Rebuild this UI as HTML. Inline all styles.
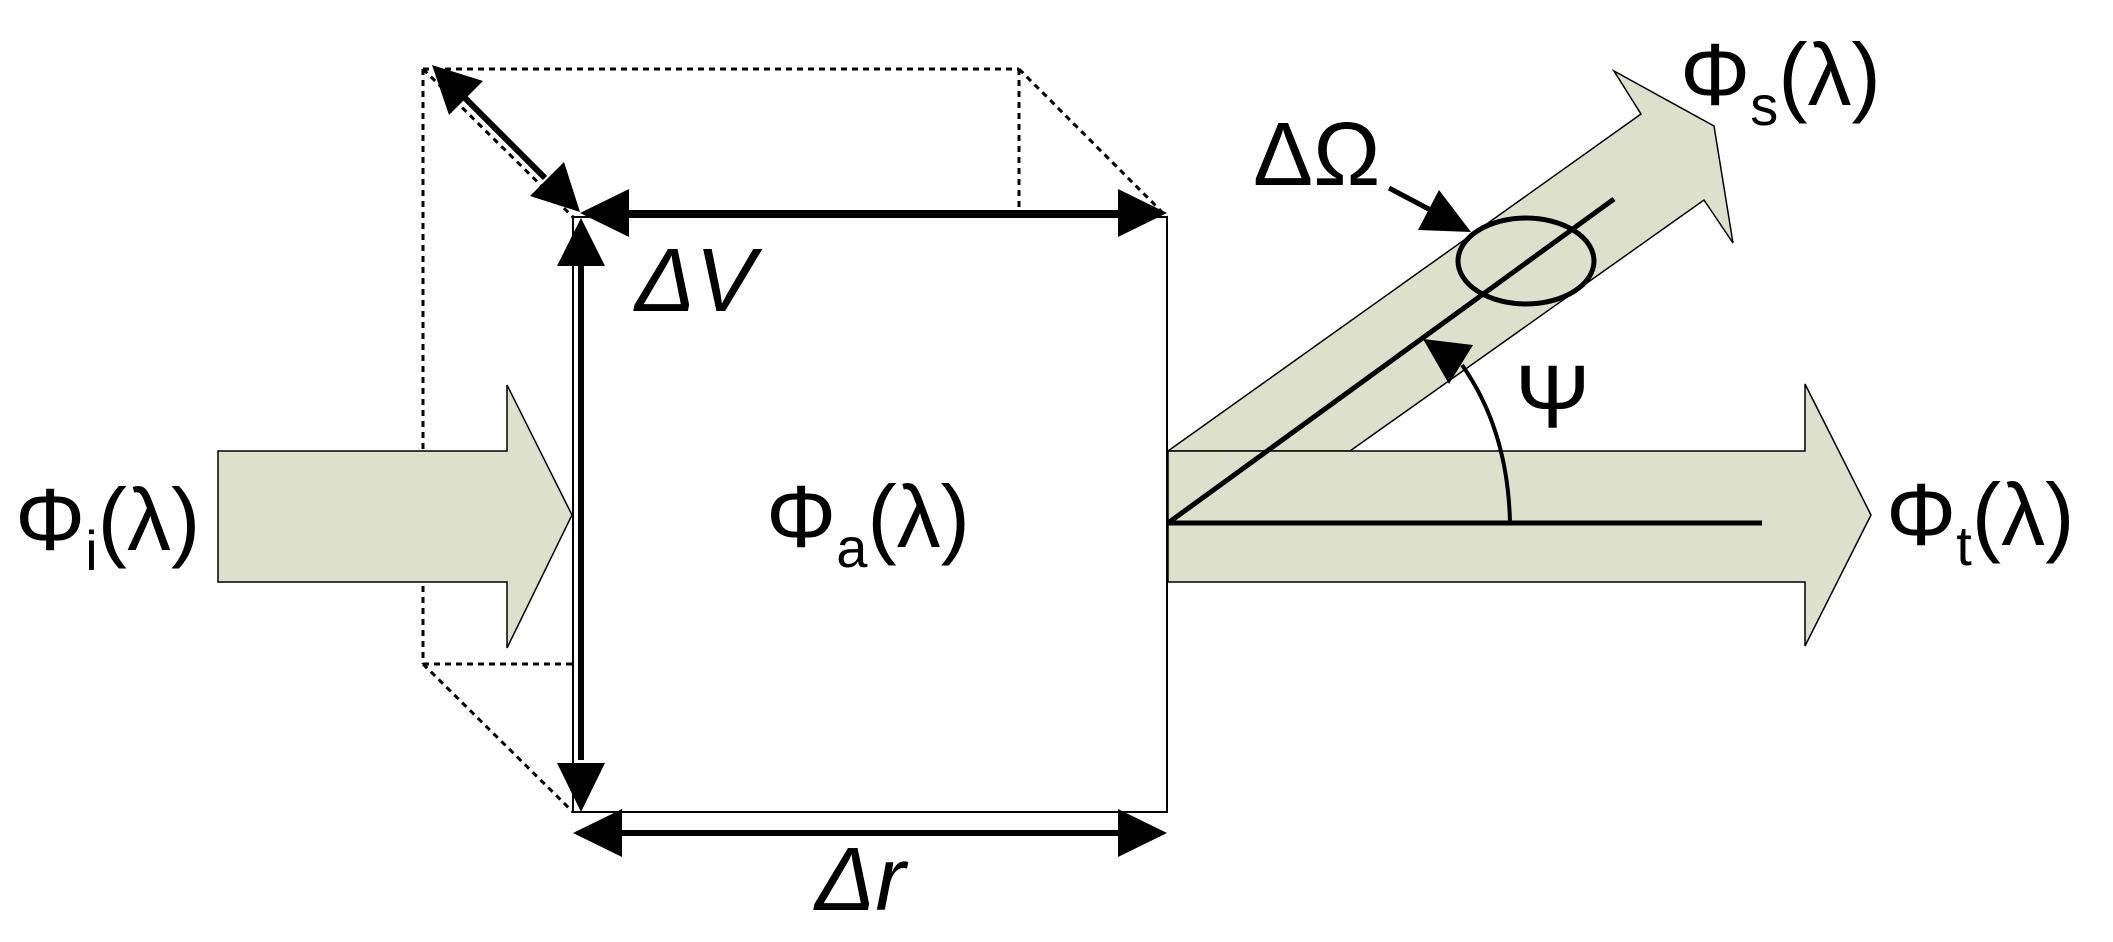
<!DOCTYPE html>
<html><head><meta charset="utf-8"><style>
html,body{margin:0;padding:0;background:#fff;}
svg{display:block;}
text{font-family:"Liberation Sans",sans-serif;fill:#000;}
</style></head><body>
<svg width="2113" height="942" viewBox="0 0 2113 942" xmlns="http://www.w3.org/2000/svg">
<!-- dashed back box -->
<g stroke="#000" stroke-width="3" stroke-dasharray="6,5" fill="none">
<line x1="423" y1="69" x2="1019" y2="69"/>
<line x1="423" y1="69" x2="423" y2="664"/>
<line x1="423" y1="664" x2="573" y2="664"/>
<line x1="1019" y1="69" x2="1019" y2="217"/>
<line x1="423" y1="69" x2="573" y2="217"/>
<line x1="1019" y1="69" x2="1167" y2="217"/>
<line x1="423" y1="664" x2="573" y2="812"/>
</g>
<!-- input arrow -->
<polygon points="218,451 507,451 507,385 572,515 507,648 507,582 218,582" fill="#DDE1CC" stroke="#000" stroke-width="1.5"/>
<!-- scattered arrow -->
<polygon points="1168,451 1641,114 1614,71 1714,126 1733,243 1704,200 1350,451" fill="#DDE1CC" stroke="#000" stroke-width="1.5"/>
<!-- transmitted arrow -->
<polygon points="1168,451 1805,451 1805,384 1871,515 1805,646 1805,582 1168,582" fill="#DDE1CC" stroke="#000" stroke-width="1.5"/>
<!-- front box -->
<rect x="573" y="217" width="594" height="595" fill="none" stroke="#000" stroke-width="2"/>
<!-- dimension arrows -->
<g stroke="#000" stroke-width="6">
<line x1="625" y1="213" x2="1120" y2="213"/>
<line x1="581" y1="266" x2="581" y2="760"/>
<line x1="620" y1="833" x2="1120" y2="833"/>
<line x1="465" y1="98" x2="545" y2="178"/>
</g>
<g fill="#000">
<polygon points="580,213 629,189 629,237"/>
<polygon points="1167,213 1118,189 1118,237"/>
<polygon points="581,218 557,266 605,266"/>
<polygon points="581,812 557,763 605,763"/>
<polygon points="573,833 622,809 622,857"/>
<polygon points="1167,833 1118,809 1118,857"/>
<polygon points="432,65 483,81 449,115"/>
<polygon points="580,212 530,196 564,162"/>
</g>
<!-- scatter geometry -->
<g stroke="#000" stroke-width="5" fill="none">
<line x1="1168" y1="523" x2="1762" y2="523"/>
<line x1="1168" y1="523" x2="1614" y2="199"/>
<ellipse cx="1526" cy="261" rx="68" ry="43"/>
<line x1="1389" y1="188" x2="1440" y2="215"/>
<path d="M1510,523 Q1508,430 1462,365" stroke-width="4"/>
</g>
<g fill="#000">
<polygon points="1471,232 1418,230 1439,190"/>
<polygon points="1423,339 1473,345 1449,384"/>
</g>
<!-- labels -->
<text x="15" y="550" font-size="88">Φ<tspan font-size="56" dy="20">i</tspan><tspan dy="-20">(λ)</tspan></text>
<text x="766" y="547" font-size="88">Φ<tspan font-size="56" dy="20">a</tspan><tspan dy="-20">(λ)</tspan></text>
<text x="1680" y="105" font-size="88">Φ<tspan font-size="56" dy="20">s</tspan><tspan dy="-20">(λ)</tspan></text>
<text x="1886" y="545" font-size="88">Φ<tspan font-size="56" dy="20">t</tspan><tspan dy="-20">(λ)</tspan></text>
<text x="635" y="311" font-size="90" font-style="italic">ΔV</text>
<text x="815" y="910" font-size="90" font-style="italic">Δr</text>
<text x="1253" y="185" font-size="90">ΔΩ</text>
<text x="1515" y="428" font-size="90">Ψ</text>
</svg>
</body></html>
